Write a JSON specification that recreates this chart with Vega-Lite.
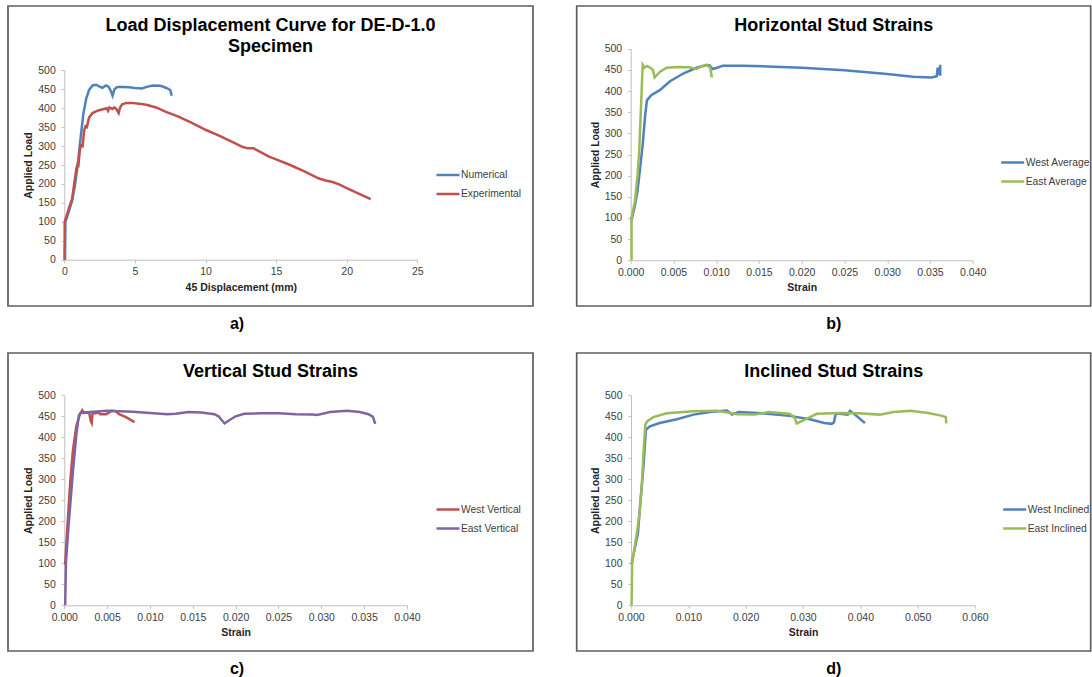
{
"$schema": "https://vega.github.io/schema/vega-lite/v6.json",
"background": "white",
"padding": {"left": 7, "top": 5, "right": 0, "bottom": 0},
"config": {
 "view": {"stroke": "#5F5F5F", "strokeWidth": 1.7},
 "font": "Liberation Sans",
 "axis": {"grid": false, "domainColor": "#BFBFBF", "tickColor": "#BFBFBF", "tickSize": 3, "labelColor": "#404040", "labelFontSize": 10.5, "titleFontSize": 10.5, "titleFontWeight": "bold", "titleColor": "#262626", "labelPadding": 4, "titlePadding": 5, "labelFlush": false, "labelOverlap": false},
 "axisY": {"labelPadding": 6, "titlePadding": 4},
 "legend": {"orient": "none", "title": null, "symbolType": "stroke", "symbolStrokeWidth": 2.5, "symbolSize": 529, "labelFontSize": 10.3, "labelColor": "#404040", "rowPadding": -1, "padding": 0, "labelOffset": 0},
 "title": {"fontSize": 18, "fontWeight": "bold", "color": "#000000", "anchor": "middle", "frame": "group"},
 "line": {"strokeWidth": 2.5}
},
"resolve": {"scale": {"color": "independent"}, "legend": {"color": "independent"}},
"spacing": 20,
"vconcat": [
 {"hconcat": [
  {"title": {"text": "a)", "orient": "bottom", "fontSize": 16, "offset": 9, "dx": -33.5, "frame": "bounds"},
   "vconcat": [{
   "width": 525, "height": 300,
   "title": {"text": ["Load Displacement Curve for DE-D-1.0", "Specimen"], "offset": -49.5, "lineHeight": 20.5},
   "data": {"values": [
    {"s":"Numerical","i":0,"x":0.05,"y":0},{"s":"Numerical","i":1,"x":0.08,"y":100},{"s":"Numerical","i":2,"x":0.3,"y":125},{"s":"Numerical","i":3,"x":0.55,"y":155},{"s":"Numerical","i":4,"x":0.75,"y":195},{"s":"Numerical","i":5,"x":0.95,"y":250},{"s":"Numerical","i":6,"x":1.15,"y":320},{"s":"Numerical","i":7,"x":1.35,"y":385},{"s":"Numerical","i":8,"x":1.55,"y":425},{"s":"Numerical","i":9,"x":1.75,"y":448},{"s":"Numerical","i":10,"x":2.0,"y":460},{"s":"Numerical","i":11,"x":2.25,"y":462},{"s":"Numerical","i":12,"x":2.5,"y":457},{"s":"Numerical","i":13,"x":2.7,"y":454},{"s":"Numerical","i":14,"x":2.95,"y":460},{"s":"Numerical","i":15,"x":3.15,"y":456},{"s":"Numerical","i":16,"x":3.3,"y":445},{"s":"Numerical","i":17,"x":3.42,"y":433},{"s":"Numerical","i":18,"x":3.55,"y":450},{"s":"Numerical","i":19,"x":3.75,"y":456},{"s":"Numerical","i":20,"x":4.2,"y":456},{"s":"Numerical","i":21,"x":4.6,"y":455},{"s":"Numerical","i":22,"x":5.0,"y":453},{"s":"Numerical","i":23,"x":5.5,"y":452},{"s":"Numerical","i":24,"x":5.9,"y":457},{"s":"Numerical","i":25,"x":6.3,"y":460},{"s":"Numerical","i":26,"x":6.8,"y":459},{"s":"Numerical","i":27,"x":7.2,"y":454},{"s":"Numerical","i":28,"x":7.5,"y":448},{"s":"Numerical","i":29,"x":7.55,"y":442},{"s":"Numerical","i":30,"x":7.6,"y":433},
    {"s":"Experimental","i":0,"x":0.02,"y":0},{"s":"Experimental","i":1,"x":0.03,"y":100},{"s":"Experimental","i":2,"x":0.2,"y":120},{"s":"Experimental","i":3,"x":0.4,"y":145},{"s":"Experimental","i":4,"x":0.55,"y":160},{"s":"Experimental","i":5,"x":0.7,"y":200},{"s":"Experimental","i":6,"x":0.85,"y":240},{"s":"Experimental","i":7,"x":0.95,"y":252},{"s":"Experimental","i":8,"x":1.0,"y":250},{"s":"Experimental","i":9,"x":1.1,"y":290},{"s":"Experimental","i":10,"x":1.2,"y":302},{"s":"Experimental","i":11,"x":1.3,"y":300},{"s":"Experimental","i":12,"x":1.4,"y":340},{"s":"Experimental","i":13,"x":1.5,"y":352},{"s":"Experimental","i":14,"x":1.6,"y":350},{"s":"Experimental","i":15,"x":1.75,"y":375},{"s":"Experimental","i":16,"x":2.0,"y":387},{"s":"Experimental","i":17,"x":2.4,"y":394},{"s":"Experimental","i":18,"x":2.8,"y":398},{"s":"Experimental","i":19,"x":3.0,"y":400},{"s":"Experimental","i":20,"x":3.1,"y":393},{"s":"Experimental","i":21,"x":3.2,"y":402},{"s":"Experimental","i":22,"x":3.4,"y":398},{"s":"Experimental","i":23,"x":3.55,"y":402},{"s":"Experimental","i":24,"x":3.7,"y":397},{"s":"Experimental","i":25,"x":3.85,"y":387},{"s":"Experimental","i":26,"x":3.95,"y":402},{"s":"Experimental","i":27,"x":4.1,"y":410},{"s":"Experimental","i":28,"x":4.4,"y":414},{"s":"Experimental","i":29,"x":4.8,"y":414},{"s":"Experimental","i":30,"x":5.3,"y":412},{"s":"Experimental","i":31,"x":5.8,"y":409},{"s":"Experimental","i":32,"x":6.5,"y":402},{"s":"Experimental","i":33,"x":7.2,"y":390},{"s":"Experimental","i":34,"x":8.0,"y":379},{"s":"Experimental","i":35,"x":9.0,"y":362},{"s":"Experimental","i":36,"x":10.0,"y":343},{"s":"Experimental","i":37,"x":11.0,"y":327},{"s":"Experimental","i":38,"x":12.0,"y":309},{"s":"Experimental","i":39,"x":12.6,"y":298},{"s":"Experimental","i":40,"x":13.0,"y":294},{"s":"Experimental","i":41,"x":13.4,"y":294},{"s":"Experimental","i":42,"x":14.0,"y":282},{"s":"Experimental","i":43,"x":14.5,"y":272},{"s":"Experimental","i":44,"x":15.0,"y":265},{"s":"Experimental","i":45,"x":16.0,"y":250},{"s":"Experimental","i":46,"x":17.0,"y":233},{"s":"Experimental","i":47,"x":18.0,"y":215},{"s":"Experimental","i":48,"x":18.5,"y":209},{"s":"Experimental","i":49,"x":19.0,"y":205},{"s":"Experimental","i":50,"x":19.5,"y":198},{"s":"Experimental","i":51,"x":20.0,"y":189},{"s":"Experimental","i":52,"x":21.0,"y":172},{"s":"Experimental","i":53,"x":21.7,"y":160}
   ]},
   "mark": {"type": "line"},
   "encoding": {
    "x": {"field": "x", "type": "quantitative", "scale": {"domain": [0, 25], "range": [56.3, 409.3], "nice": false, "zero": false}, "axis": {"values": [0, 5, 10, 15, 20, 25], "offset": -46.3, "title": "45 Displacement (mm)"}},
    "y": {"field": "y", "type": "quantitative", "scale": {"domain": [0, 500], "range": [253.7, 64.3], "nice": false}, "axis": {"values": [0, 50, 100, 150, 200, 250, 300, 350, 400, 450, 500], "offset": -56.3, "title": "Applied Load"}},
    "color": {"field": "s", "type": "nominal", "scale": {"domain": ["Numerical", "Experimental"], "range": ["#4F81BD", "#C0504D"]}, "legend": {"legendX": 427, "legendY": 156}},
    "order": {"field": "i", "type": "quantitative"}
   }
  }]},
  {"title": {"text": "b)", "orient": "bottom", "fontSize": 16, "offset": 9, "dx": 0, "frame": "bounds"},
   "vconcat": [{
   "width": 514, "height": 300,
   "title": {"text": "Horizontal Stud Strains", "offset": -29},
   "data": {"values": [
    {"s":"West Average","i":0,"x":0.0001,"y":95},{"s":"West Average","i":1,"x":0.0005,"y":130},{"s":"West Average","i":2,"x":0.0008,"y":164},{"s":"West Average","i":3,"x":0.0011,"y":218},{"s":"West Average","i":4,"x":0.0014,"y":273},{"s":"West Average","i":5,"x":0.0017,"y":345},{"s":"West Average","i":6,"x":0.0019,"y":378},{"s":"West Average","i":7,"x":0.0024,"y":390},{"s":"West Average","i":8,"x":0.0034,"y":402},{"s":"West Average","i":9,"x":0.0046,"y":423},{"s":"West Average","i":10,"x":0.0062,"y":442},{"s":"West Average","i":11,"x":0.0077,"y":455},{"s":"West Average","i":12,"x":0.0088,"y":461},{"s":"West Average","i":13,"x":0.0092,"y":461},{"s":"West Average","i":14,"x":0.0096,"y":452},{"s":"West Average","i":15,"x":0.0101,"y":455},{"s":"West Average","i":16,"x":0.0108,"y":460},{"s":"West Average","i":17,"x":0.013,"y":460},{"s":"West Average","i":18,"x":0.016,"y":458},{"s":"West Average","i":19,"x":0.02,"y":455},{"s":"West Average","i":20,"x":0.025,"y":449},{"s":"West Average","i":21,"x":0.03,"y":440},{"s":"West Average","i":22,"x":0.033,"y":434},{"s":"West Average","i":23,"x":0.0352,"y":432},{"s":"West Average","i":24,"x":0.0358,"y":435},{"s":"West Average","i":25,"x":0.0359,"y":455},{"s":"West Average","i":26,"x":0.036,"y":441},{"s":"West Average","i":27,"x":0.0361,"y":440},{"s":"West Average","i":28,"x":0.0362,"y":462},{"s":"West Average","i":29,"x":0.0362,"y":436},
    {"s":"East Average","i":0,"x":0.0001,"y":0},{"s":"East Average","i":1,"x":0.0001,"y":100},{"s":"East Average","i":2,"x":0.0005,"y":140},{"s":"East Average","i":3,"x":0.0008,"y":200},{"s":"East Average","i":4,"x":0.001,"y":260},{"s":"East Average","i":5,"x":0.0012,"y":360},{"s":"East Average","i":6,"x":0.0014,"y":462},{"s":"East Average","i":7,"x":0.0016,"y":455},{"s":"East Average","i":8,"x":0.0019,"y":459},{"s":"East Average","i":9,"x":0.0023,"y":455},{"s":"East Average","i":10,"x":0.0026,"y":450},{"s":"East Average","i":11,"x":0.0028,"y":432},{"s":"East Average","i":12,"x":0.0034,"y":445},{"s":"East Average","i":13,"x":0.0042,"y":455},{"s":"East Average","i":14,"x":0.0055,"y":457},{"s":"East Average","i":15,"x":0.0068,"y":456},{"s":"East Average","i":16,"x":0.0077,"y":452},{"s":"East Average","i":17,"x":0.0083,"y":458},{"s":"East Average","i":18,"x":0.0089,"y":462},{"s":"East Average","i":19,"x":0.0093,"y":455},{"s":"East Average","i":20,"x":0.0095,"y":432}
   ]},
   "mark": {"type": "line"},
   "encoding": {
    "x": {"field": "x", "type": "quantitative", "scale": {"domain": [0, 0.04], "range": [54, 396], "nice": false, "zero": false}, "axis": {"values": [0, 0.005, 0.01, 0.015, 0.02, 0.025, 0.03, 0.035, 0.04], "format": ".3f", "offset": -45.7, "title": "Strain"}},
    "y": {"field": "y", "type": "quantitative", "scale": {"domain": [0, 500], "range": [254.3, 42.7], "nice": false}, "axis": {"values": [0, 50, 100, 150, 200, 250, 300, 350, 400, 450, 500], "offset": -54, "title": "Applied Load"}},
    "color": {"field": "s", "type": "nominal", "scale": {"domain": ["West Average", "East Average"], "range": ["#4F81BD", "#9BBB59"]}, "legend": {"legendX": 423, "legendY": 143.5}},
    "order": {"field": "i", "type": "quantitative"}
   }
  }]}
 ], "spacing": 41.7, "resolve": {"scale": {"color": "independent"}, "legend": {"color": "independent"}}},
 {"hconcat": [
  {"title": {"text": "c)", "orient": "bottom", "fontSize": 16, "offset": 9, "dx": -33.5, "frame": "bounds"},
   "vconcat": [{
   "width": 525, "height": 298,
   "title": {"text": "Vertical Stud Strains", "offset": -28},
   "data": {"values": [
    {"s":"West Vertical","i":0,"x":0.0001,"y":97},{"s":"West Vertical","i":1,"x":0.0004,"y":200},{"s":"West Vertical","i":2,"x":0.0007,"y":295},{"s":"West Vertical","i":3,"x":0.001,"y":367},{"s":"West Vertical","i":4,"x":0.0014,"y":426},{"s":"West Vertical","i":5,"x":0.0018,"y":454},{"s":"West Vertical","i":6,"x":0.0021,"y":464},{"s":"West Vertical","i":7,"x":0.0023,"y":458},{"s":"West Vertical","i":8,"x":0.0029,"y":459},{"s":"West Vertical","i":9,"x":0.0031,"y":438},{"s":"West Vertical","i":10,"x":0.0032,"y":434},{"s":"West Vertical","i":11,"x":0.0033,"y":459},{"s":"West Vertical","i":12,"x":0.0035,"y":457},{"s":"West Vertical","i":13,"x":0.004,"y":459},{"s":"West Vertical","i":14,"x":0.0042,"y":455},{"s":"West Vertical","i":15,"x":0.0049,"y":455},{"s":"West Vertical","i":16,"x":0.0055,"y":463},{"s":"West Vertical","i":17,"x":0.006,"y":462},{"s":"West Vertical","i":18,"x":0.0064,"y":455},{"s":"West Vertical","i":19,"x":0.0072,"y":448},{"s":"West Vertical","i":20,"x":0.0082,"y":436},
    {"s":"East Vertical","i":0,"x":0.0001,"y":0},{"s":"East Vertical","i":1,"x":0.0002,"y":105},{"s":"East Vertical","i":2,"x":0.0005,"y":190},{"s":"East Vertical","i":3,"x":0.001,"y":317},{"s":"East Vertical","i":4,"x":0.0014,"y":405},{"s":"East Vertical","i":5,"x":0.0017,"y":452},{"s":"East Vertical","i":6,"x":0.0019,"y":458},{"s":"East Vertical","i":7,"x":0.003,"y":460},{"s":"East Vertical","i":8,"x":0.005,"y":463},{"s":"East Vertical","i":9,"x":0.008,"y":461},{"s":"East Vertical","i":10,"x":0.01,"y":458},{"s":"East Vertical","i":11,"x":0.012,"y":455},{"s":"East Vertical","i":12,"x":0.013,"y":456},{"s":"East Vertical","i":13,"x":0.0145,"y":460},{"s":"East Vertical","i":14,"x":0.016,"y":459},{"s":"East Vertical","i":15,"x":0.0175,"y":455},{"s":"East Vertical","i":16,"x":0.018,"y":450},{"s":"East Vertical","i":17,"x":0.0187,"y":433},{"s":"East Vertical","i":18,"x":0.0192,"y":440},{"s":"East Vertical","i":19,"x":0.02,"y":450},{"s":"East Vertical","i":20,"x":0.021,"y":456},{"s":"East Vertical","i":21,"x":0.023,"y":457},{"s":"East Vertical","i":22,"x":0.025,"y":457},{"s":"East Vertical","i":23,"x":0.027,"y":455},{"s":"East Vertical","i":24,"x":0.029,"y":454},{"s":"East Vertical","i":25,"x":0.0295,"y":453},{"s":"East Vertical","i":26,"x":0.031,"y":460},{"s":"East Vertical","i":27,"x":0.033,"y":463},{"s":"East Vertical","i":28,"x":0.0345,"y":460},{"s":"East Vertical","i":29,"x":0.0355,"y":455},{"s":"East Vertical","i":30,"x":0.036,"y":449},{"s":"East Vertical","i":31,"x":0.0361,"y":445},{"s":"East Vertical","i":32,"x":0.0362,"y":437},{"s":"East Vertical","i":33,"x":0.0363,"y":432}
   ]},
   "mark": {"type": "line"},
   "encoding": {
    "x": {"field": "x", "type": "quantitative", "scale": {"domain": [0, 0.04], "range": [56.3, 399], "nice": false, "zero": false}, "axis": {"values": [0, 0.005, 0.01, 0.015, 0.02, 0.025, 0.03, 0.035, 0.04], "format": ".3f", "offset": -45.7, "title": "Strain"}},
    "y": {"field": "y", "type": "quantitative", "scale": {"domain": [0, 500], "range": [252.3, 42.3], "nice": false}, "axis": {"values": [0, 50, 100, 150, 200, 250, 300, 350, 400, 450, 500], "offset": -56.3, "title": "Applied Load"}},
    "color": {"field": "s", "type": "nominal", "scale": {"domain": ["West Vertical", "East Vertical"], "range": ["#C0504D", "#8064A2"]}, "legend": {"legendX": 427, "legendY": 143.5}},
    "order": {"field": "i", "type": "quantitative"}
   }
  }]},
  {"title": {"text": "d)", "orient": "bottom", "fontSize": 16, "offset": 9, "dx": 0, "frame": "bounds"},
   "vconcat": [{
   "width": 514, "height": 298,
   "title": {"text": "Inclined Stud Strains", "offset": -28},
   "data": {"values": [
    {"s":"West Inclined","i":0,"x":0.0001,"y":97},{"s":"West Inclined","i":1,"x":0.0007,"y":138},{"s":"West Inclined","i":2,"x":0.0012,"y":170},{"s":"West Inclined","i":3,"x":0.0016,"y":240},{"s":"West Inclined","i":4,"x":0.0022,"y":335},{"s":"West Inclined","i":5,"x":0.0026,"y":418},{"s":"West Inclined","i":6,"x":0.0033,"y":426},{"s":"West Inclined","i":7,"x":0.005,"y":434},{"s":"West Inclined","i":8,"x":0.008,"y":443},{"s":"West Inclined","i":9,"x":0.0109,"y":454},{"s":"West Inclined","i":10,"x":0.0138,"y":460},{"s":"West Inclined","i":11,"x":0.0167,"y":464},{"s":"West Inclined","i":12,"x":0.0173,"y":458},{"s":"West Inclined","i":13,"x":0.0176,"y":454},{"s":"West Inclined","i":14,"x":0.0188,"y":460},{"s":"West Inclined","i":15,"x":0.0221,"y":458},{"s":"West Inclined","i":16,"x":0.0276,"y":451},{"s":"West Inclined","i":17,"x":0.0312,"y":443},{"s":"West Inclined","i":18,"x":0.0337,"y":434},{"s":"West Inclined","i":19,"x":0.035,"y":432},{"s":"West Inclined","i":20,"x":0.0354,"y":436},{"s":"West Inclined","i":21,"x":0.0357,"y":456},{"s":"West Inclined","i":22,"x":0.0364,"y":456},{"s":"West Inclined","i":23,"x":0.0378,"y":454},{"s":"West Inclined","i":24,"x":0.0382,"y":463},{"s":"West Inclined","i":25,"x":0.0388,"y":457},{"s":"West Inclined","i":26,"x":0.0408,"y":434},
    {"s":"East Inclined","i":0,"x":0.0001,"y":0},{"s":"East Inclined","i":1,"x":0.0002,"y":100},{"s":"East Inclined","i":2,"x":0.0004,"y":118},{"s":"East Inclined","i":3,"x":0.001,"y":170},{"s":"East Inclined","i":4,"x":0.0015,"y":220},{"s":"East Inclined","i":5,"x":0.0019,"y":290},{"s":"East Inclined","i":6,"x":0.0022,"y":367},{"s":"East Inclined","i":7,"x":0.0025,"y":430},{"s":"East Inclined","i":8,"x":0.0028,"y":438},{"s":"East Inclined","i":9,"x":0.0039,"y":448},{"s":"East Inclined","i":10,"x":0.0062,"y":457},{"s":"East Inclined","i":11,"x":0.0109,"y":462},{"s":"East Inclined","i":12,"x":0.015,"y":463},{"s":"East Inclined","i":13,"x":0.0173,"y":458},{"s":"East Inclined","i":14,"x":0.0185,"y":455},{"s":"East Inclined","i":15,"x":0.0215,"y":454},{"s":"East Inclined","i":16,"x":0.024,"y":460},{"s":"East Inclined","i":17,"x":0.0276,"y":456},{"s":"East Inclined","i":18,"x":0.0285,"y":448},{"s":"East Inclined","i":19,"x":0.0289,"y":433},{"s":"East Inclined","i":20,"x":0.0306,"y":444},{"s":"East Inclined","i":21,"x":0.0324,"y":456},{"s":"East Inclined","i":22,"x":0.0367,"y":458},{"s":"East Inclined","i":23,"x":0.0397,"y":457},{"s":"East Inclined","i":24,"x":0.0434,"y":454},{"s":"East Inclined","i":25,"x":0.0458,"y":460},{"s":"East Inclined","i":26,"x":0.0488,"y":463},{"s":"East Inclined","i":27,"x":0.0518,"y":458},{"s":"East Inclined","i":28,"x":0.0543,"y":451},{"s":"East Inclined","i":29,"x":0.0549,"y":448},{"s":"East Inclined","i":30,"x":0.055,"y":433}
   ]},
   "mark": {"type": "line"},
   "encoding": {
    "x": {"field": "x", "type": "quantitative", "scale": {"domain": [0, 0.06], "range": [54.3, 398.3], "nice": false, "zero": false}, "axis": {"values": [0, 0.01, 0.02, 0.03, 0.04, 0.05, 0.06], "format": ".3f", "offset": -45.7, "title": "Strain"}},
    "y": {"field": "y", "type": "quantitative", "scale": {"domain": [0, 500], "range": [252.3, 42.3], "nice": false}, "axis": {"values": [0, 50, 100, 150, 200, 250, 300, 350, 400, 450, 500], "offset": -54.3, "title": "Applied Load"}},
    "color": {"field": "s", "type": "nominal", "scale": {"domain": ["West Inclined", "East Inclined"], "range": ["#4F81BD", "#9BBB59"]}, "legend": {"legendX": 425, "legendY": 143.5}},
    "order": {"field": "i", "type": "quantitative"}
   }
  }]}
 ], "spacing": 41.7, "resolve": {"scale": {"color": "independent"}, "legend": {"color": "independent"}}}
]
}
